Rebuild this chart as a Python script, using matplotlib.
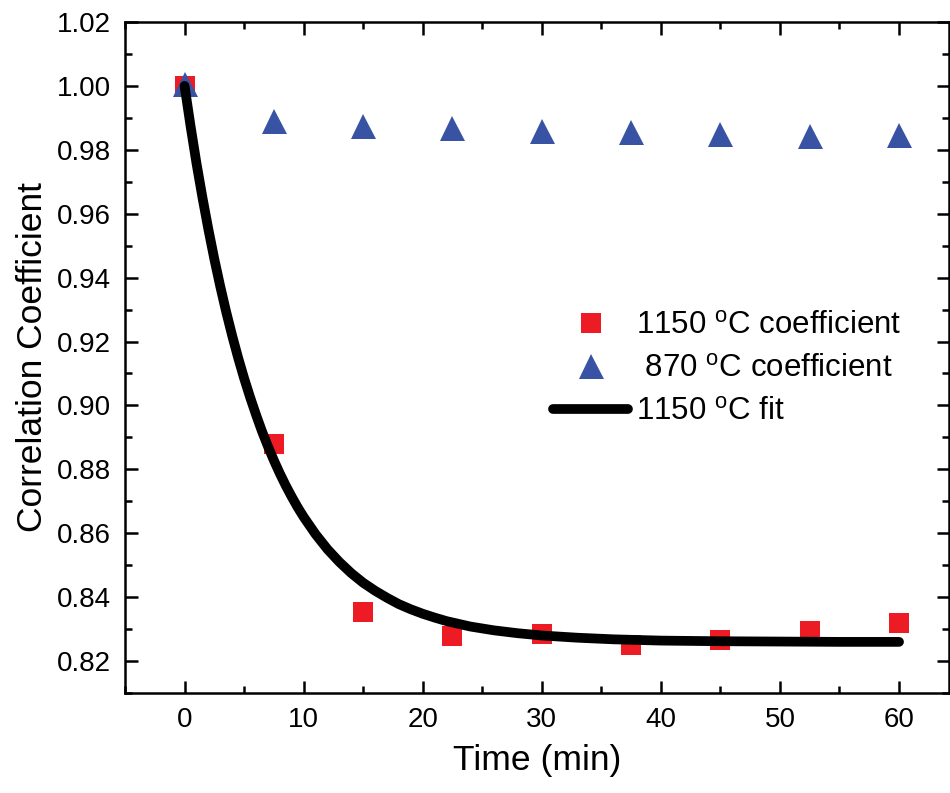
import matplotlib
matplotlib.use('Agg')
import matplotlib.pyplot as plt
from matplotlib.ticker import MultipleLocator

plt.rcParams['font.family'] = ['Liberation Sans', 'DejaVu Sans']
plt.rcParams['mathtext.fontset'] = 'custom'
plt.rcParams['mathtext.rm'] = 'Liberation Sans'

# sample times (min)
time = [0, 7.5, 15, 22.5, 30, 37.5, 45, 52.5, 60]
# 1150 C correlation coefficient
coef_1150 = [1.000, 0.888, 0.8353, 0.8278, 0.8284, 0.8250, 0.8266, 0.8294, 0.8319]
# 870 C correlation coefficient
coef_870 = [1.0005, 0.9890, 0.9875, 0.9869, 0.9859, 0.9856, 0.9850, 0.9843, 0.9845]

# fit curve for 1150 C
fit_t = [0, 0.5, 1, 1.5, 2, 2.5, 3, 3.5, 4, 4.5, 5, 5.5, 6, 6.5, 7, 7.5, 8, 8.5,
         9, 9.5, 10, 11, 12, 13, 14, 15, 16, 17, 18, 19, 20, 21, 22, 24, 26, 28,
         30, 33, 36, 40, 45, 50, 55, 60]
fit_y = [1.000, 0.9875, 0.9758, 0.9651, 0.9551, 0.9458, 0.9372, 0.9292, 0.9218,
         0.9149, 0.9085, 0.9026, 0.8971, 0.8919, 0.8872, 0.8828, 0.8787, 0.8749,
         0.8714, 0.8681, 0.8651, 0.8597, 0.8550, 0.8510, 0.8475, 0.8445, 0.8420,
         0.8398, 0.8378, 0.8362, 0.8348, 0.8336, 0.8325, 0.8308, 0.8296, 0.8287,
         0.8280, 0.8273, 0.8268, 0.8264, 0.8262, 0.8261, 0.8260, 0.8260]

fig = plt.figure(figsize=(9.5, 7.93), dpi=100)
ax = fig.add_axes([0.1316, 0.1261, 0.8674, 0.8462])

ax.plot(time, coef_1150, 's', color='#ED1C24', ms=14, mew=0,
        label='1150 $^{\\mathrm{o}}$C coefficient', zorder=3)
ax.plot(time, coef_870, '^', color='#3953A4', ms=18, mew=0,
        label=' 870 $^{\\mathrm{o}}$C coefficient', zorder=4)
ax.plot(fit_t, fit_y, '-', color='black', lw=7, solid_capstyle='round',
        solid_joinstyle='round', label='1150 $^{\\mathrm{o}}$C fit', zorder=5)

ax.set_xlim(-5, 64.2)
ax.set_ylim(0.81, 1.02)
ax.xaxis.set_major_locator(MultipleLocator(10))
ax.xaxis.set_minor_locator(MultipleLocator(5))
ax.yaxis.set_major_locator(MultipleLocator(0.02))
ax.yaxis.set_minor_locator(MultipleLocator(0.01))
ax.yaxis.set_major_formatter(matplotlib.ticker.FormatStrFormatter('%.2f'))

ax.tick_params(which='both', direction='in', top=True, right=True, width=1.8,
               labelsize=20, pad=10)
ax.tick_params(which='major', length=9)
ax.tick_params(which='minor', length=5)
for s in ax.spines.values():
    s.set_linewidth(1.8)

ax.set_xlabel('Time (min)', fontsize=25.5, labelpad=8)
ax.set_ylabel('Correlation Coefficient', fontsize=25.5, labelpad=6)

ax.legend(loc='upper right', bbox_to_anchor=(0.961, 0.593), frameon=False,
          fontsize=22.5, handlelength=2.4, handletextpad=0.25,
          labelspacing=0.42, borderpad=0)

fig.savefig('out.png', dpi=100)
